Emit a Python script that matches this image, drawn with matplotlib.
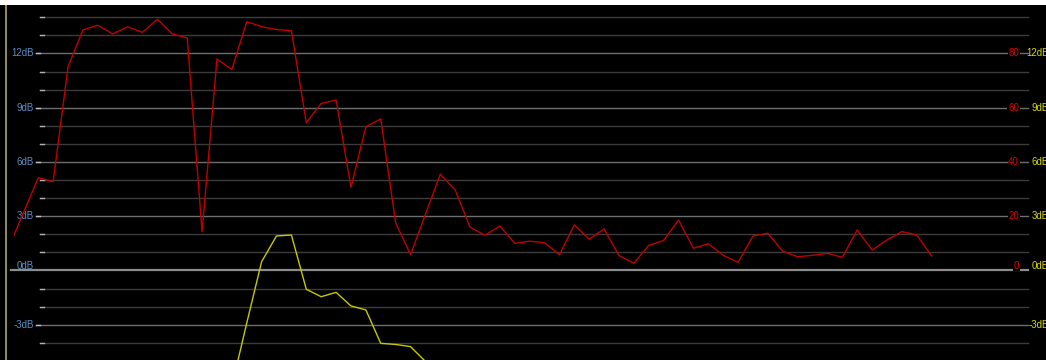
import numpy as np
import matplotlib
matplotlib.use("Agg")
import matplotlib.pyplot as plt
from matplotlib.patches import Rectangle

# red trace (dB per point), starting at point index 0
red_db = [1.24, 3.19, 5.13, 4.91, 11.27, 13.30, 13.56, 13.08, 13.47, 13.17,
          13.89, 13.08, 12.86, 2.15, 11.70, 11.11, 13.76, 13.48, 13.32, 13.26,
          8.17, 9.23, 9.43, 4.60, 7.95, 8.38, 2.64, 0.87, 3.10, 5.32,
          4.45, 2.39, 1.95, 2.46, 1.50, 1.62, 1.54, 0.87, 2.52, 1.73,
          2.30, 0.82, 0.40, 1.39, 1.66, 2.79, 1.23, 1.48, 0.84, 0.45,
          1.91, 2.06, 1.06, 0.76, 0.84, 0.95, 0.73, 2.24, 1.13, 1.69,
          2.15, 1.96, 0.80]

# yellow trace, starts at point index 15
yellow_start = 15
yellow_db = [-6.4, -2.91, 0.49, 1.91, 1.96, -1.04, -1.45, -1.21, -1.96, -2.18,
             -4.03, -4.09, -4.21, -5.03, -6.5]

left_ticks = [12, 9, 6, 3, 0, -3]
left_labels = ["12dB", "9dB", "6dB", "3dB", "0dB", "-3dB"]
red_ticks = [12, 9, 6, 3, 0]
red_labels = ["80", "60", "40", "20", "0"]
minor_ticks = [14, 13, 11, 10, 8, 7, 5, 4, 2, 1, -1, -2, -4]

W, H = 1046, 360
fig = plt.figure(figsize=(W / 100, H / 100), dpi=100, facecolor="black")

# plot area in pixels: x 14..1028, y 5..360
ax = fig.add_axes([14 / W, 0, (1028 - 14) / W, 355 / H])
ax.set_facecolor("black")
for s in ax.spines.values():
    s.set_visible(False)
ax.set_xticks([])
ax.set_yticks([])

x_red = np.arange(len(red_db))
x_yel = np.arange(len(yellow_db)) + yellow_start
ax.set_xlim(0.369, 68.47)
ax.set_ylim(-4.95, 14.68)


def fx(px):
    return (px - 14) / 1014


font = "Liberation Sans"
tr = ax.get_yaxis_transform()

for y in minor_ticks:
    ax.axhline(y, fx(40), 1.0, color="#3c3c3c", lw=1, clip_on=False, zorder=1)
    ax.axhline(y, fx(40), fx(44), color="#b0b0b0", lw=1, clip_on=False, zorder=1)

for y, lab in zip(left_ticks, left_labels):
    if y == 0:
        ax.axhline(0, fx(11), 1.0, color="#8c8c8c", lw=1.6, clip_on=False, zorder=1)
        ax.text(fx(34), 0.1, lab, transform=tr, ha="right", va="baseline",
                color="#5b8ec4", fontsize=7, family=font)
    else:
        ax.axhline(y, fx(36), 1.0, color="#6e6e6e", lw=1, clip_on=False, zorder=1)
        ax.axhline(y, fx(36), fx(40), color="#c0c0c0", lw=1, clip_on=False, zorder=1)
        ax.text(fx(34), y, lab, transform=tr, ha="right", va="center",
                color="#5b8ec4", fontsize=7, family=font)
    # yellow labels on the far right
    ax.text(fx(1049), y + (0.1 if y == 0 else 0), lab, transform=tr, ha="right",
            va="baseline" if y == 0 else "center", color="#d8d800", fontsize=7,
            family=font, clip_on=False)

for y, lab in zip(red_ticks, red_labels):
    ax.text(fx(1019), y + (0.1 if y == 0 else 0), lab, transform=tr, ha="right",
            va="baseline" if y == 0 else "center", color="#e00000", fontsize=7,
            family=font, zorder=3,
            bbox=dict(facecolor="black", edgecolor="none", pad=0.5))

ax.plot(x_red, red_db, color="#c00000", lw=1.0, zorder=4)
ax.plot(x_yel, yellow_db, color="#c8c800", lw=1.0, zorder=4)

# frame bits: white strip on top, olive rule on the left
fig.patches.append(Rectangle((0, 355 / H), 1, 5 / H, transform=fig.transFigure,
                             facecolor="white", edgecolor="none"))
fig.patches.append(Rectangle((5 / W, 0), 2 / W, 355 / H, transform=fig.transFigure,
                             facecolor="#8e8a5e", edgecolor="none"))

fig.savefig("out.png", dpi=100, facecolor="black")
